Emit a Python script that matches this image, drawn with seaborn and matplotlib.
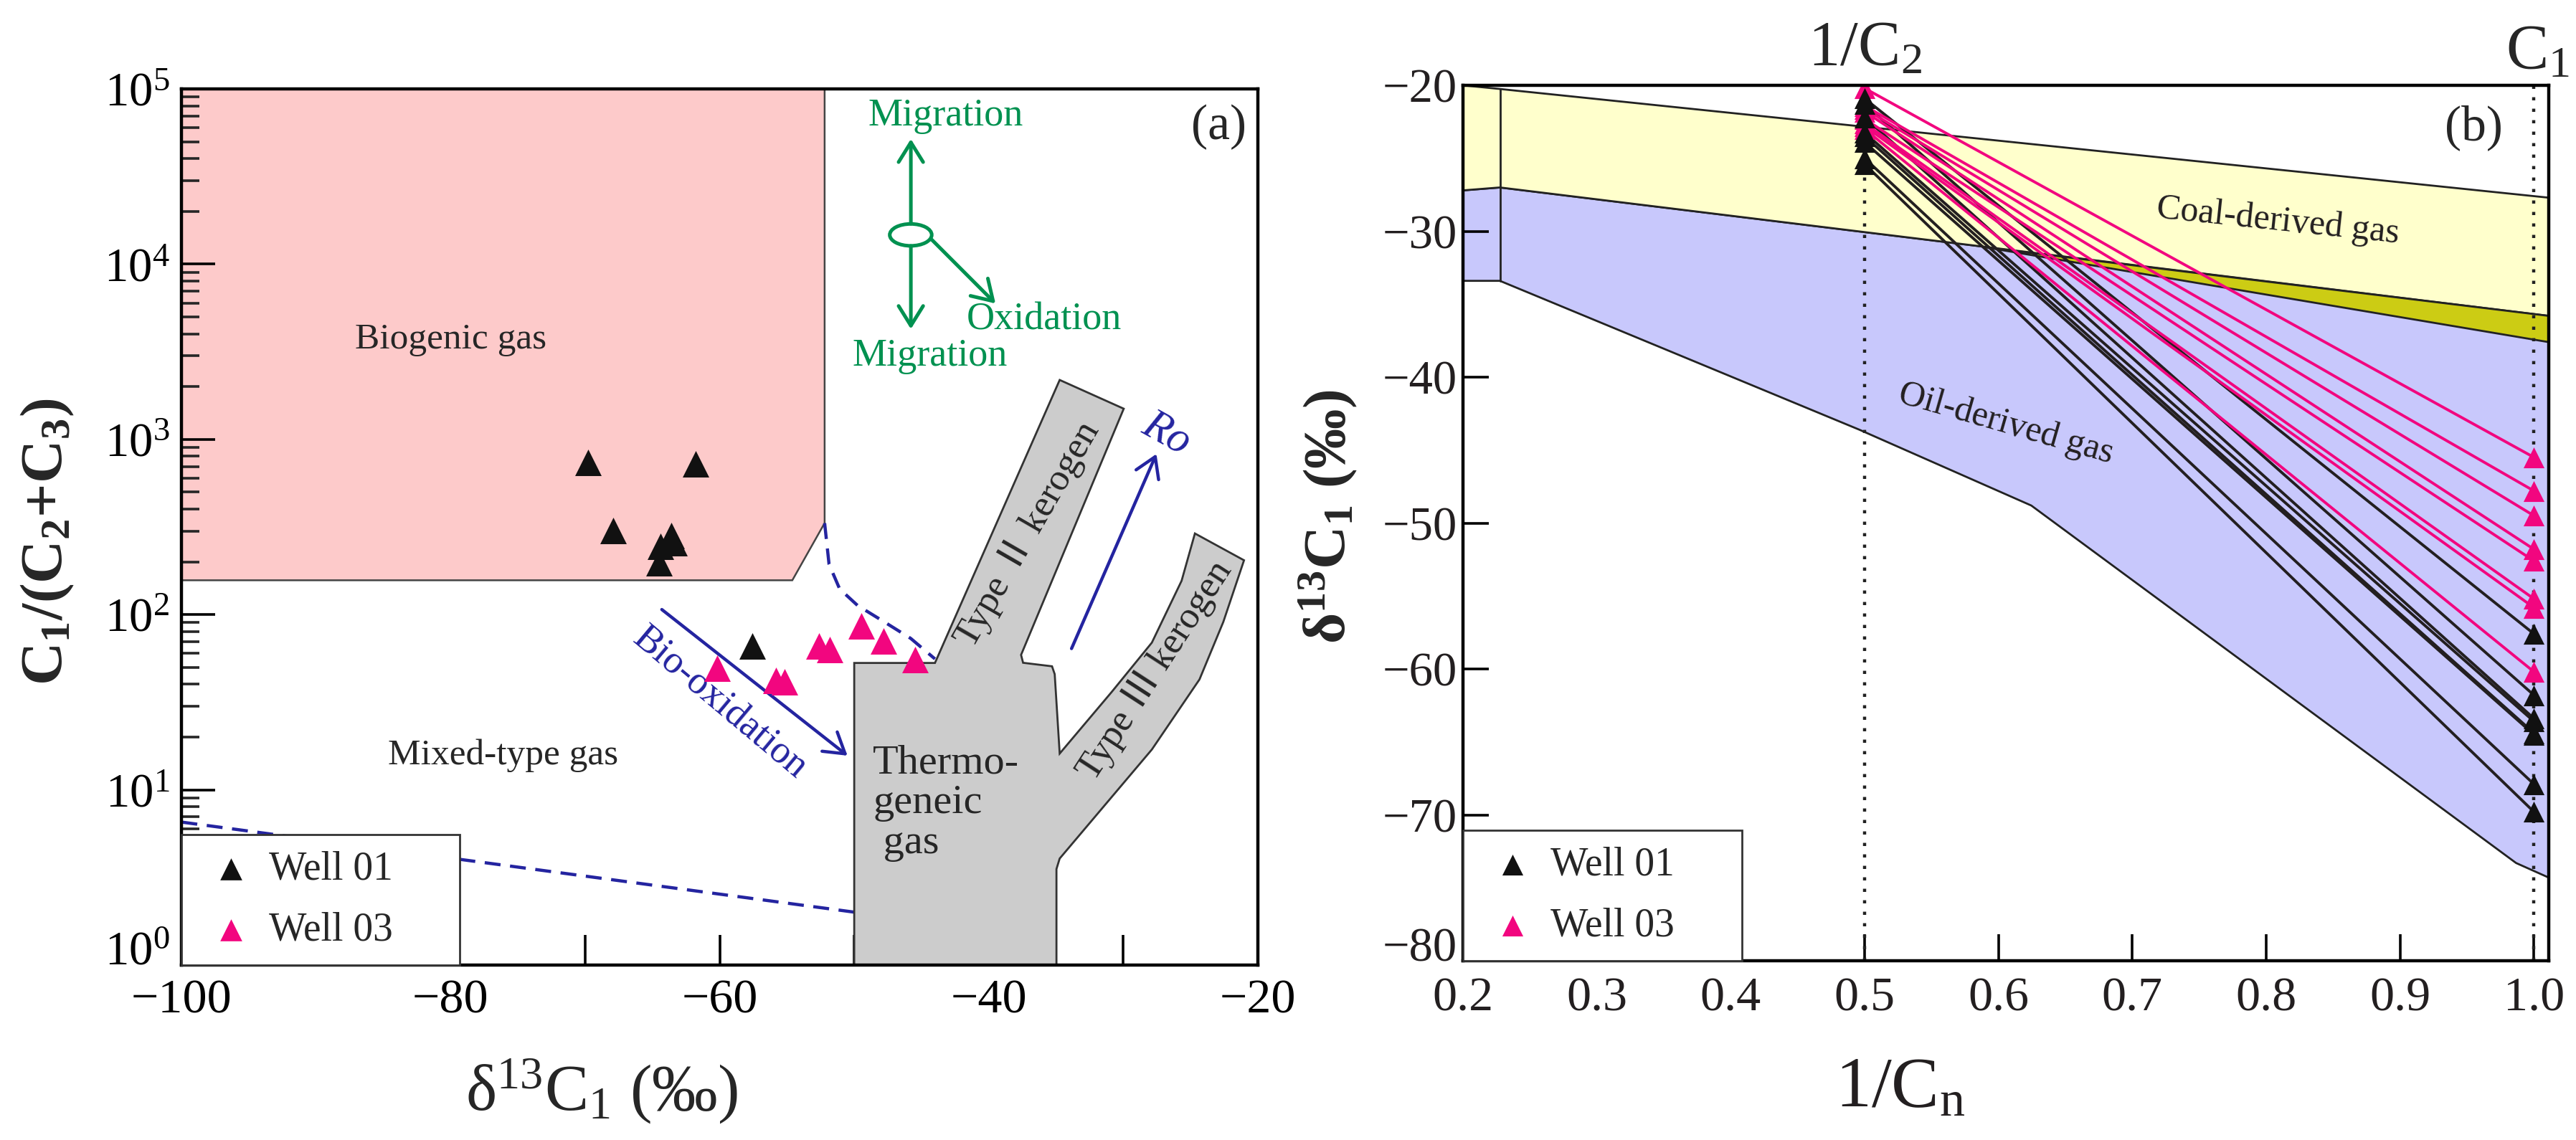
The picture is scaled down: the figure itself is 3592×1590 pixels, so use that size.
import numpy as np
import pandas as pd
import matplotlib.pyplot as plt
import seaborn as sns
from matplotlib.patches import Polygon, Ellipse
from matplotlib.ticker import (MultipleLocator, LogLocator, NullFormatter,
                               FormatStrFormatter, FixedLocator)

sns.set_theme(style="ticks")
plt.rcParams["font.family"] = ["Liberation Serif", "DejaVu Sans"]
plt.rcParams["mathtext.fontset"] = "custom"
plt.rcParams["mathtext.rm"] = "Liberation Serif"
plt.rcParams["mathtext.it"] = "Liberation Serif:italic"
plt.rcParams["mathtext.bf"] = "Liberation Serif:bold"

# --- data ---
# samples: d13C1 (permil), C1/(C2+C3), d13C2 (permil)
well01_c1 = [-69.8, -67.9, -64.5, -64.4, -63.6, -63.4, -61.8, -57.6]
well01_ratio = [740, 301, 198, 246, 283, 258, 722, 66]
well01_c2 = [-25.4, -25.0, -23.9, -23.5, -23.25, -22.2, -21.3, -20.9]

well03_c1 = [-60.2, -55.8, -55.2, -52.6, -51.8, -49.5, -47.8, -45.5]
well03_ratio = [49.4, 42, 41.3, 66, 63, 86.5, 70.8, 55.2]
well03_c2 = [-23.0, -22.8, -22.6, -22.3, -21.8, -21.6, -21.4, -20.2]

# panel (a) zones
bio_x = [-100, -52.2, -52.2, -54.6, -100]
bio_y = [1e5, 1e5, 333, 157, 157]
thermo_x = [-50.0, -50.0, -44.0, -34.73, -29.97, -37.6, -37.45, -35.3, -35.1,
            -34.73, -30.86, -27.88, -25.67, -24.68, -21.03, -22.57, -24.34,
            -27.88, -34.73, -34.97, -34.97]
thermo_logy = [0, 1.724, 1.724, 3.339, 3.175, 1.770, 1.725, 1.705, 1.66,
               1.207, 1.559, 1.84, 2.193, 2.463, 2.31, 1.958, 1.63,
               1.23, 0.608, 0.548, 0]
dash_curve_x = [-52.2, -51.87, -51.08, -49.75, -47.76, -45.8, -44.0]
dash_curve_logy = [2.522, 2.287, 2.146, 2.052, 1.958, 1.864, 1.747]
dash_low_x = [-100, -50.0]
dash_low_logy = [0.816, 0.302]

# panel (b) zones
coal_x = [0.2, 0.2276, 1.011, 1.011, 0.2276, 0.2]
coal_y = [-20.0, -20.25, -27.7, -35.8, -27.0, -27.2]
mix_x = [0.59, 1.011, 1.011]
mix_y = [-31.1, -35.8, -37.6]
oil_x = [0.2, 0.2276, 1.011, 1.011, 0.9866, 0.6245, 0.496, 0.2276, 0.2]
oil_y = [-27.2, -27.0, -35.8, -74.3, -73.3, -48.8, -43.6, -33.4, -33.4]
right_xticks = [0.2, 0.3, 0.4, 0.5, 0.6, 0.7, 0.8, 0.9, 1.0]

BLACK = "#111111"
PINK = "#f2067f"
GREEN = "#009150"
BLUE = "#2424a0"

fig = plt.figure(figsize=(17.96, 7.95), dpi=200)

# ================= panel (a) =================
ax1 = fig.add_axes([0.07044, 0.15346, 0.41787, 0.76855])
ax1.set_yscale("log")
ax1.set_xlim(-100, -20)
ax1.set_ylim(1, 1e5)

ax1.add_patch(Polygon(np.column_stack([bio_x, bio_y]), closed=True,
                      facecolor="#fdcaca", edgecolor="#444444", lw=0.9, zorder=0.5))
ax1.add_patch(Polygon(np.column_stack([thermo_x, 10 ** np.array(thermo_logy)]),
                      closed=True, facecolor="#cccccc", edgecolor="#333333",
                      lw=1.0, zorder=1))

ax1.plot(dash_curve_x, 10 ** np.array(dash_curve_logy), color=BLUE, lw=1.6,
         ls=(0, (5, 3)), zorder=1.5)
ax1.plot(dash_low_x, 10 ** np.array(dash_low_logy), color=BLUE, lw=1.6,
         ls=(0, (5, 3)), zorder=0.8)

# arrows
arrow_green = dict(arrowstyle="->,head_length=0.45,head_width=0.28", color=GREEN,
                   lw=1.8, shrinkA=0, shrinkB=0, mutation_scale=22)
ax1.annotate("", xy=(-45.79, 51800), xytext=(-45.79, 17000), arrowprops=arrow_green)
ax1.annotate("", xy=(-45.79, 4260), xytext=(-45.79, 12700), arrowprops=arrow_green)
ax1.annotate("", xy=(-39.5, 5960), xytext=(-44.24, 13800), arrowprops=arrow_green)
ax1.add_patch(Ellipse((0.6775, 0.8334), 0.039, 0.025, transform=ax1.transAxes,
                      fill=False, edgecolor=GREEN, lw=1.8, zorder=3))

arrow_blue = dict(arrowstyle="->,head_length=0.45,head_width=0.28", color=BLUE,
                  lw=1.6, shrinkA=0, shrinkB=0, mutation_scale=22)
ax1.annotate("", xy=(-50.5, 10 ** 1.195), xytext=(-64.3, 10 ** 2.029), arrowprops=arrow_blue)
ax1.annotate("", xy=(-27.54, 10 ** 2.917), xytext=(-33.85, 10 ** 1.806), arrowprops=arrow_blue)

# texts
ax1.text(-43.2, 10 ** 4.845, "Migration", color=GREEN, fontsize=19.5, ha="center", va="center")
ax1.text(-35.9, 10 ** 3.682, "Oxidation", color=GREEN, fontsize=19.5, ha="center", va="center")
ax1.text(-44.4, 10 ** 3.473, "Migration", color=GREEN, fontsize=19.5, ha="center", va="center")
ax1.text(-80.0, 3700, "Biogenic gas", fontsize=18.5, ha="center", va="center")
ax1.text(-76.1, 15.7, "Mixed-type gas", fontsize=18.5, ha="center", va="center")
ax1.text(-22.9, 10 ** 4.78, "(a)", fontsize=25, ha="center", va="center")
ax1.text(-60.0, 10 ** 1.493, "Bio-oxidation", color=BLUE, fontsize=19.5, ha="center",
         va="center", rotation=-40, rotation_mode="anchor")
ax1.text(-26.8, 10 ** 3.03, "Ro", color=BLUE, fontsize=22, style="italic", ha="center",
         va="center", rotation=-29, rotation_mode="anchor")
ax1.text(-48.6, 10 ** 1.26, "Thermo-\ngeneic\n gas", fontsize=21, ha="left",
         va="top", linespacing=1.1)
ax1.text(-37.1, 10 ** 2.459, "Type Ⅱ kerogen", fontsize=19, ha="center", va="center",
         rotation=60, rotation_mode="anchor", family=["Liberation Serif", "Noto Sans CJK SC"])
ax1.text(-27.67, 10 ** 1.682, "Type Ⅲ kerogen", fontsize=19, ha="center", va="center",
         rotation=57, rotation_mode="anchor", family=["Liberation Serif", "Noto Sans CJK SC"])

sns.scatterplot(x=well01_c1, y=well01_ratio, marker="^", s=177, color=BLACK,
                linewidth=0, ax=ax1, zorder=4, label="Well 01")
sns.scatterplot(x=well03_c1, y=well03_ratio, marker="^", s=177, color=PINK,
                linewidth=0, ax=ax1, zorder=4, label="Well 03")

ax1.xaxis.set_major_locator(MultipleLocator(20))
ax1.xaxis.set_minor_locator(MultipleLocator(10))
ax1.yaxis.set_major_locator(LogLocator(base=10, numticks=10))
ax1.yaxis.set_minor_locator(LogLocator(base=10, subs=np.arange(2, 10) * 1.0, numticks=20))
ax1.yaxis.set_minor_formatter(NullFormatter())
ax1.tick_params(axis="x", which="both", direction="in", length=15, width=1.3,
                top=False, labelsize=24.5, pad=7, colors="black")
ax1.tick_params(axis="y", which="major", direction="in", length=17, width=1.3,
                right=False, labelsize=24, pad=6, colors="black")
ax1.tick_params(axis="y", which="minor", direction="in", length=9, width=1.3, right=False)

ax1.set_xlabel("δ$^{13}$C$_1$ (‰)", fontsize=33)
ax1.xaxis.set_label_coords(0.39, -0.105)
ax1.set_ylabel(r"C$_\mathbf{1}$/(C$_\mathbf{2}$+C$_\mathbf{3}$)", fontsize=30,
               fontweight="bold")
ax1.yaxis.set_label_coords(-0.098, 0.483)

leg1 = ax1.legend(loc="lower left", bbox_to_anchor=(0, 0, 0.2585, 0.15), mode="expand",
                  borderaxespad=0, fancybox=False, framealpha=1, edgecolor="#333333",
                  fontsize=20, handlelength=1.7, handletextpad=0.1, borderpad=0.4,
                  labelspacing=0.6, markerscale=0.83)
leg1.get_frame().set_linewidth(1.0)
leg1.set_zorder(6)

# ================= panel (b) =================
ax2 = fig.add_axes([0.56793, 0.15723, 0.42149, 0.76792])
ax2.set_xlim(0.2, 1.011)
ax2.set_ylim(-80, -20)

ax2.add_patch(Polygon(np.column_stack([oil_x, oil_y]), closed=True,
                      facecolor="#c8c8fc", edgecolor="#222222", lw=1.0, zorder=0.5))
ax2.add_patch(Polygon(np.column_stack([coal_x, coal_y]), closed=True,
                      facecolor="#ffffcc", edgecolor="#222222", lw=1.0, zorder=0.6))
ax2.add_patch(Polygon(np.column_stack([mix_x, mix_y]), closed=True,
                      facecolor="#cccc14", edgecolor="#222222", lw=1.0, zorder=0.7))
ax2.plot([0.2276, 0.2276], [-20.25, -33.4], color="#222222", lw=1.0, zorder=0.8)

for xv in [0.5, 1.0]:
    ax2.axvline(xv, color="#222222", lw=1.6, ls=(0, (1, 2.6)), zorder=1)

rows = []
for i, (a, b) in enumerate(zip(well01_c2, well01_c1)):
    rows.append({"sample": f"01_{i}", "well": "Well 01", "x": 0.5, "y": a})
    rows.append({"sample": f"01_{i}", "well": "Well 01", "x": 1.0, "y": b})
for i, (a, b) in enumerate(zip(well03_c2, well03_c1)):
    rows.append({"sample": f"03_{i}", "well": "Well 03", "x": 0.5, "y": a})
    rows.append({"sample": f"03_{i}", "well": "Well 03", "x": 1.0, "y": b})
lines = pd.DataFrame(rows)

sns.lineplot(data=lines[lines.well == "Well 01"], x="x", y="y", units="sample",
             estimator=None, sort=False, color="#231f20", lw=1.4, ax=ax2,
             zorder=2, legend=False)
sns.lineplot(data=lines[lines.well == "Well 03"], x="x", y="y", units="sample",
             estimator=None, sort=False, color=PINK, lw=1.4, ax=ax2,
             zorder=2.1, legend=False)

sns.scatterplot(x=[0.5] * len(well03_c2), y=well03_c2, marker="^", s=110, color=PINK,
                linewidth=0, ax=ax2, zorder=3)
sns.scatterplot(x=[0.5] * len(well01_c2), y=well01_c2, marker="^", s=110, color=BLACK,
                linewidth=0, ax=ax2, zorder=3.1, label="Well 01")
sns.scatterplot(x=[1.0] * len(well01_c1), y=well01_c1, marker="^", s=110, color=BLACK,
                linewidth=0, ax=ax2, zorder=3.1)
sns.scatterplot(x=[1.0] * len(well03_c1), y=well03_c1, marker="^", s=110, color=PINK,
                linewidth=0, ax=ax2, zorder=3.2, label="Well 03")

ax2.text(0.8086, -29.3, "Coal-derived gas", fontsize=18, color="#231f20", ha="center",
         va="center", rotation=-6, rotation_mode="anchor")
ax2.text(0.6053, -43.2, "Oil-derived gas", fontsize=18, color="#231f20", ha="center",
         va="center", rotation=-16, rotation_mode="anchor")
ax2.text(0.955, -22.9, "(b)", fontsize=25, ha="center", va="center")
trans = ax2.get_xaxis_transform()
ax2.text(0.5, 1.008, "1/C$_2$", fontsize=32, ha="center", va="bottom", transform=trans)
ax2.text(1.003, 1.004, "C$_1$", fontsize=32, ha="center", va="bottom", transform=trans)

ax2.xaxis.set_major_locator(FixedLocator(right_xticks))
ax2.xaxis.set_major_formatter(FormatStrFormatter("%.1f"))
ax2.yaxis.set_major_locator(MultipleLocator(10))
ax2.tick_params(axis="x", direction="in", length=13.5, width=1.3, top=False,
                labelsize=24.5, pad=8, colors="#231f20")
ax2.tick_params(axis="y", direction="in", length=13, width=1.3, right=False,
                labelsize=24, pad=3, colors="#231f20")
ax2.tick_params(axis="both", color="black")

ax2.set_xlabel("1/C$_\\mathregular{n}$", fontsize=36, color="#231f20")
ax2.xaxis.set_label_coords(0.403, -0.11)
ax2.set_ylabel(r"δ$^{\mathbf{13}}$C$_{\mathbf{1}}$ (‰)", fontsize=30, fontweight="bold")
ax2.yaxis.set_label_coords(-0.096, 0.507)

leg2 = ax2.legend(loc="lower left", bbox_to_anchor=(0, 0, 0.257, 0.148), mode="expand",
                  borderaxespad=0, fancybox=False, framealpha=1, edgecolor="#333333",
                  fontsize=20, handlelength=1.7, handletextpad=0.1, borderpad=0.4,
                  labelspacing=0.6, markerscale=1.0)
leg2.get_frame().set_linewidth(1.0)
leg2.set_zorder(6)

for ax in (ax1, ax2):
    for sp in ax.spines.values():
        sp.set_linewidth(1.6)
        sp.set_color("black")
        sp.set_zorder(5)

# lift the lowest y tick label so it does not run into the x tick labels
fig.canvas.draw()
for ax, low in ((ax1, 1.0), (ax2, -80.0)):
    for tick in ax.yaxis.get_major_ticks():
        if np.isclose(tick.get_loc(), low):
            tick.label1.set_va("baseline")

fig.savefig("out.png", dpi=200)
